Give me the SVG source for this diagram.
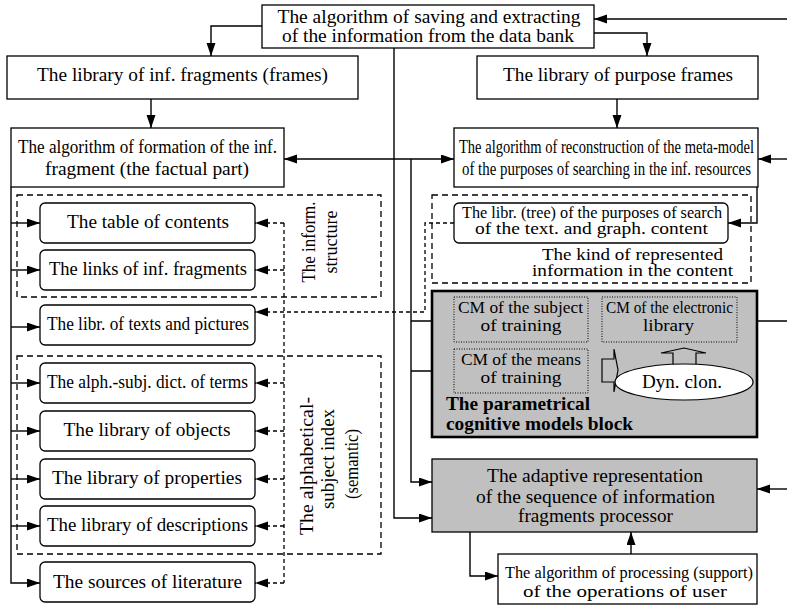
<svg xmlns="http://www.w3.org/2000/svg" width="787" height="606" viewBox="0 0 787 606">
  <style>
    text { font-family: "Liberation Serif", "Times New Roman", serif; font-size: 19px; fill: #000; }
    .c { text-anchor: middle; }
    .s18 { font-size: 18px; }
    .s17 { font-size: 17px; }
    .s16 { font-size: 16px; }
    .box { fill: #fff; stroke: #000; stroke-width: 1.3; }
    .rbox { fill: #fff; stroke: #000; stroke-width: 1.3; }
    .gray { fill: #c0c0c0; stroke: #000; stroke-width: 1.3; }
    .thick { fill: #c0c0c0; stroke: #000; stroke-width: 2.6; }
    .dot { fill: none; stroke: #000; stroke-width: 1; stroke-dasharray: 1 1.5; }
    .dbox { fill: none; stroke: #000; stroke-width: 1.3; stroke-dasharray: 6 4; }
    .ln { fill: none; stroke: #000; stroke-width: 1.4; }
    .arr { fill: none; stroke: #000; stroke-width: 1.4; marker-end: url(#ah); }
    .dash { fill: none; stroke: #000; stroke-width: 1.3; stroke-dasharray: 4 3; }
    .darr { fill: none; stroke: #000; stroke-width: 1.3; stroke-dasharray: 4 3; marker-end: url(#ah); }
    .b { font-weight: bold; }
  </style>
  <defs>
    <marker id="ah" markerUnits="userSpaceOnUse" markerWidth="14" markerHeight="10" refX="13" refY="4.5" orient="auto-start-reverse">
      <path d="M0,0 L13,4.5 L0,9 Z" fill="#000" stroke="none"/>
    </marker>
  </defs>

  <!-- dashed grouping frames -->
  <g id="frames">
    <rect class="dbox" x="17" y="195" width="364" height="102"/>
    <rect class="dbox" x="17" y="356" width="364" height="198"/>
    <rect class="dbox" x="432" y="195" width="319" height="88"/>
    <text class="c" transform="translate(315,242) rotate(-90)" textLength="81" lengthAdjust="spacingAndGlyphs">The inform.</text>
    <text class="c" transform="translate(337,242) rotate(-90)" textLength="63" lengthAdjust="spacingAndGlyphs">structure</text>
    <text class="c" transform="translate(313,466) rotate(-90)" textLength="138" lengthAdjust="spacingAndGlyphs">The alphabetical-</text>
    <text class="c" transform="translate(334,459) rotate(-90)" textLength="100" lengthAdjust="spacingAndGlyphs">subject index</text>
    <text class="c s18" transform="translate(358,464) rotate(-90)" textLength="70" lengthAdjust="spacingAndGlyphs">(semantic)</text>
    <text class="c s17" x="632.5" y="260" textLength="181" lengthAdjust="spacingAndGlyphs">The kind of represented</text>
    <text class="c s17" x="632.5" y="276" textLength="201" lengthAdjust="spacingAndGlyphs">information in the content</text>
  </g>

  <!-- connectors -->
  <g id="connectors">
    <path class="arr" d="M262,26 H211 V56"/>
    <path class="arr" d="M594,33 H647 V56"/>
    <path class="arr" d="M787,19 H594"/>
    <path class="arr" d="M151,99 V128"/>
    <path class="arr" d="M617,99 V128"/>
    <path class="arr" d="M284,159 H454" style="marker-start:url(#ah)"/>
    <path class="arr" d="M787,159 H758"/>
    <path class="arr" d="M757,187 V223 H728"/>
    <path class="arr" d="M394,48 V518 H432"/>
    <path class="arr" d="M411,159 V482 H432"/>
    <path class="ln" d="M411,321 H454 M411,371 H454 M737,321 H787"/>
    <path class="arr" d="M787,489 H757"/>
    <path class="arr" d="M470,532 V576 H498"/>
    <path class="arr" d="M631,554 V532"/>
    <!-- left bus -->
    <path class="arr" d="M11,187 V583 H40"/>
    <path class="arr" d="M11,223 H40"/>
    <path class="arr" d="M11,270 H40"/>
    <path class="arr" d="M11,327 H40"/>
    <path class="arr" d="M11,383 H40"/>
    <path class="arr" d="M11,431 H40"/>
    <path class="arr" d="M11,479 H40"/>
    <path class="arr" d="M11,526 H40"/>
    <!-- dashed bus -->
    <path class="dash" d="M284,223 V583"/>
    <path class="darr" d="M284,223 H255"/>
    <path class="darr" d="M284,270 H255"/>
    <path class="darr" d="M284,383 H255"/>
    <path class="darr" d="M284,431 H255"/>
    <path class="darr" d="M284,479 H255"/>
    <path class="darr" d="M284,526 H255"/>
    <path class="darr" d="M284,583 H255"/>
    <path class="darr" d="M454,223 H425 V312 H255"/>
  </g>

  <g id="bank">
    <rect class="box" x="262" y="5" width="332" height="43"/>
    <text class="c" x="429" y="23" textLength="303" lengthAdjust="spacingAndGlyphs">The algorithm of saving and extracting</text>
    <text class="c" x="428" y="42" textLength="292" lengthAdjust="spacingAndGlyphs">of the information from the data bank</text>
  </g>
  <g id="frag-lib">
    <rect class="box" x="7" y="56" width="351" height="43"/>
    <text class="c" x="182.5" y="81" textLength="291" lengthAdjust="spacingAndGlyphs">The library of inf. fragments (frames)</text>
  </g>
  <g id="purpose-lib">
    <rect class="box" x="477" y="56" width="281" height="43"/>
    <text class="c" x="618" y="81" textLength="230" lengthAdjust="spacingAndGlyphs">The library of purpose frames</text>
  </g>
  <g id="formation">
    <rect class="box" x="11" y="128" width="273" height="59"/>
    <text class="c" x="147.5" y="153" textLength="259" lengthAdjust="spacingAndGlyphs">The algorithm of formation of the inf.</text>
    <text class="c" x="147" y="175" textLength="204" lengthAdjust="spacingAndGlyphs">fragment (the factual part)</text>
  </g>
  <g id="reconstruction">
    <rect class="box" x="454" y="128" width="304" height="59"/>
    <text class="c s18" x="606.5" y="153" textLength="295" lengthAdjust="spacingAndGlyphs">The algorithm of reconstruction of the meta-model</text>
    <text class="c s18" x="606.5" y="175" textLength="289" lengthAdjust="spacingAndGlyphs">of the purposes of searching in the inf. resources</text>
  </g>

  <g id="toc">
    <rect class="rbox" x="40" y="203" width="215" height="40" rx="5"/>
    <text class="c" x="148" y="228" textLength="162" lengthAdjust="spacingAndGlyphs">The table of contents</text>
  </g>
  <g id="links">
    <rect class="rbox" x="40" y="250" width="215" height="40" rx="5"/>
    <text class="c" x="148" y="275" textLength="198" lengthAdjust="spacingAndGlyphs">The links of inf. fragments</text>
  </g>
  <g id="texts-pics">
    <rect class="rbox" x="40" y="305" width="215" height="40" rx="5"/>
    <text class="c" x="148" y="330" textLength="202" lengthAdjust="spacingAndGlyphs">The libr. of texts and pictures</text>
  </g>
  <g id="dict">
    <rect class="rbox" x="40" y="363" width="215" height="40" rx="5"/>
    <text class="c" x="147.5" y="388" textLength="201" lengthAdjust="spacingAndGlyphs">The alph.-subj. dict. of terms</text>
  </g>
  <g id="objects">
    <rect class="rbox" x="40" y="411" width="215" height="40" rx="5"/>
    <text class="c" x="147" y="436" textLength="167" lengthAdjust="spacingAndGlyphs">The library of objects</text>
  </g>
  <g id="properties">
    <rect class="rbox" x="40" y="459" width="215" height="40" rx="5"/>
    <text class="c" x="147" y="484" textLength="190" lengthAdjust="spacingAndGlyphs">The library of properties</text>
  </g>
  <g id="descriptions">
    <rect class="rbox" x="40" y="506" width="215" height="40" rx="5"/>
    <text class="c" x="147.5" y="531" textLength="201" lengthAdjust="spacingAndGlyphs">The library of descriptions</text>
  </g>
  <g id="sources">
    <rect class="rbox" x="40" y="562" width="215" height="40" rx="5"/>
    <text class="c" x="147.5" y="588" textLength="189" lengthAdjust="spacingAndGlyphs">The sources of literature</text>
  </g>

  <g id="purpose-tree">
    <rect class="rbox" x="454" y="203" width="274" height="40" rx="5"/>
    <text class="c s16" x="592" y="218" textLength="260" lengthAdjust="spacingAndGlyphs">The libr. (tree) of the purposes of search</text>
    <text class="c s16" x="591.5" y="234" textLength="233" lengthAdjust="spacingAndGlyphs">of the text. and graph. content</text>
  </g>

  <g id="cognitive-block">
    <rect class="thick" x="432" y="291" width="325" height="146"/>
    <rect class="dot" x="454" y="297" width="134" height="45"/>
    <text class="c s17" x="520.5" y="313" textLength="125" lengthAdjust="spacingAndGlyphs">CM of the subject</text>
    <text class="c s17" x="521" y="331" textLength="81" lengthAdjust="spacingAndGlyphs">of training</text>
    <rect class="dot" x="602" y="297" width="135" height="45"/>
    <text class="c s17" x="669.5" y="313" textLength="127" lengthAdjust="spacingAndGlyphs">CM of the electronic</text>
    <text class="c s17" x="668.5" y="331" textLength="51" lengthAdjust="spacingAndGlyphs">library</text>
    <rect class="dot" x="454" y="349" width="134" height="44"/>
    <text class="c s17" x="521" y="365" textLength="120" lengthAdjust="spacingAndGlyphs">CM of the means</text>
    <text class="c s17" x="521" y="383" textLength="81" lengthAdjust="spacingAndGlyphs">of training</text>
    <!-- cloning symbol: side and top block arrows with ellipse -->
    <path d="M602,359 H614 V349 L618,370 L614,392 V382 H602 Z" fill="none" stroke="#000" stroke-width="1.2"/>
    <path d="M673,365 V353 H661 L684,348 L706,353 H696 V365" fill="none" stroke="#000" stroke-width="1.2"/>
    <ellipse cx="684" cy="382" rx="69" ry="18" fill="#fff" stroke="#000" stroke-width="1.2"/>
    <text class="c" x="682" y="388" textLength="80" lengthAdjust="spacingAndGlyphs">Dyn. clon.</text>
    <text class="b" x="446" y="410" textLength="144" lengthAdjust="spacingAndGlyphs">The parametrical</text>
    <text class="b" x="446" y="430" textLength="187" lengthAdjust="spacingAndGlyphs">cognitive models block</text>
  </g>

  <g id="adaptive">
    <rect class="gray" x="432" y="459" width="325" height="73"/>
    <text class="c" x="595" y="482" textLength="216" lengthAdjust="spacingAndGlyphs">The adaptive representation</text>
    <text class="c" x="595.5" y="503" textLength="239" lengthAdjust="spacingAndGlyphs">of the sequence of information</text>
    <text class="c" x="595.5" y="522" textLength="155" lengthAdjust="spacingAndGlyphs">fragments processor</text>
  </g>

  <g id="processing">
    <rect class="box" x="498" y="554" width="259" height="50"/>
    <text class="c s17" x="629" y="578" textLength="248" lengthAdjust="spacingAndGlyphs">The algorithm of processing (support)</text>
    <text class="c s17" x="625" y="597" textLength="204" lengthAdjust="spacingAndGlyphs">of the operations of user</text>
  </g>
</svg>
